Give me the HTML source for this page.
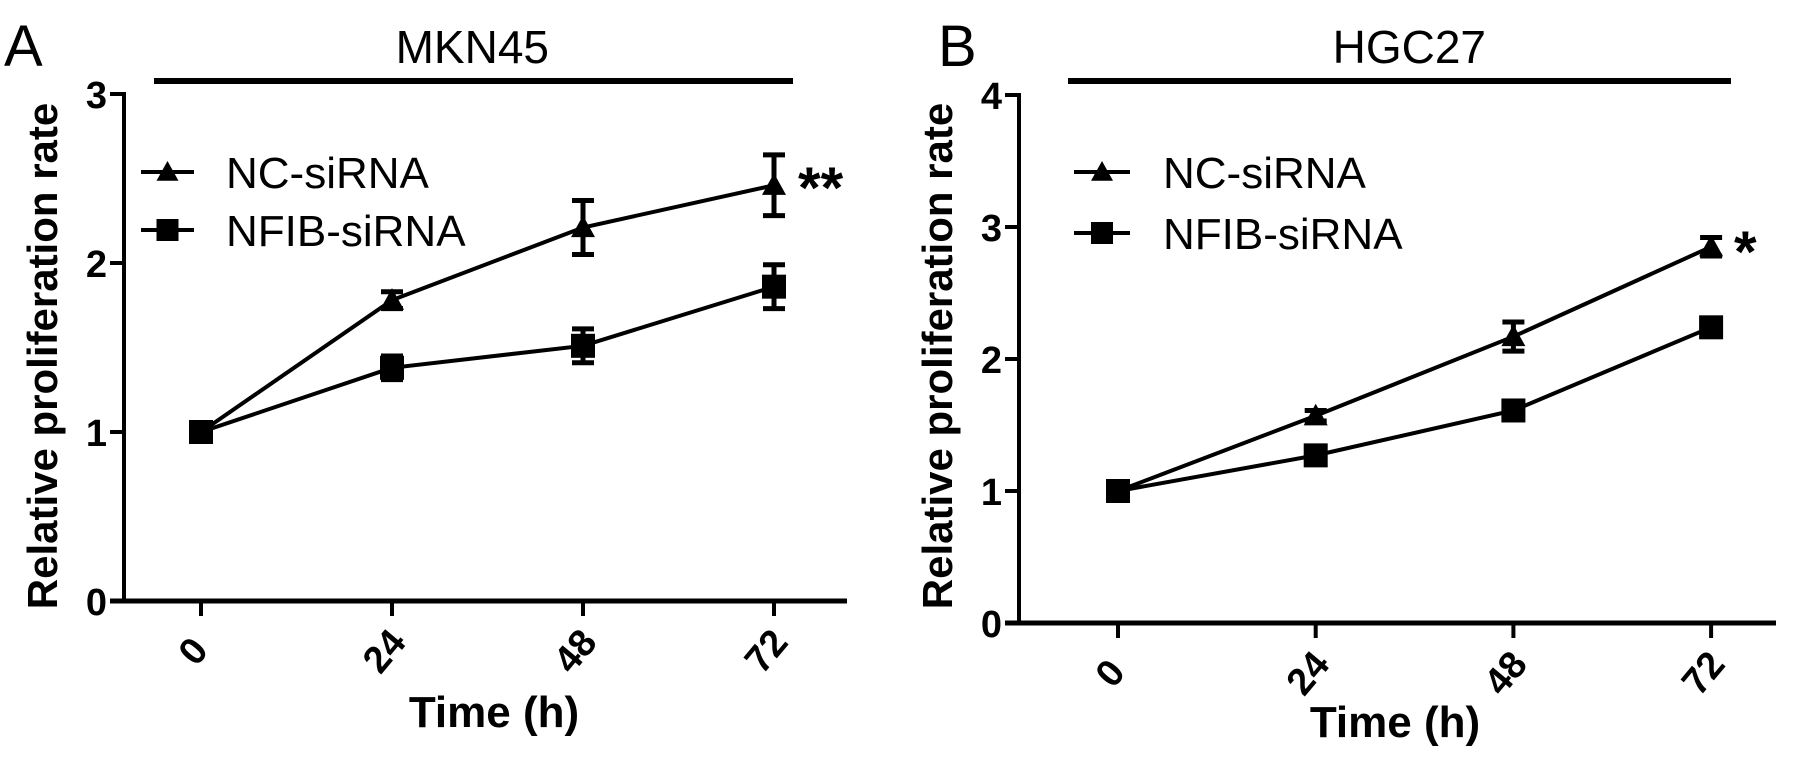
<!DOCTYPE html>
<html><head><meta charset="utf-8"><style>
html,body{margin:0;padding:0;background:#fff;}
svg{display:block;font-family:"Liberation Sans",Arial,sans-serif;}
</style></head><body>
<svg id="chart" width="1795" height="758" viewBox="0 0 1795 758" xmlns="http://www.w3.org/2000/svg"></svg>
<script>
const timepoints = [0, 24, 48, 72];
const tickLabelsX = ["0", "24", "48", "72"];
const mknNC = [1.0, 1.78, 2.21, 2.46];
const mknNCErr = [0.02, 0.05, 0.16, 0.18];
const mknNFIB = [1.0, 1.38, 1.51, 1.86];
const mknNFIBErr = [0.02, 0.07, 0.1, 0.13];
const hgcNC = [1.0, 1.57, 2.17, 2.85];
const hgcNCErr = [0.02, 0.04, 0.11, 0.07];
const hgcNFIB = [1.0, 1.27, 1.61, 2.24];
const hgcNFIBErr = [0.02, 0.03, 0.06, 0.03];
const mknTicksY = [0, 1, 2, 3];
const hgcTicksY = [0, 1, 2, 3, 4];

const NS = "http://www.w3.org/2000/svg";
const svg = document.getElementById("chart");
function el(tag, attrs, parent) {
  const e = document.createElementNS(NS, tag);
  for (const k in attrs) e.setAttribute(k, attrs[k]);
  (parent || svg).appendChild(e);
  return e;
}

const panels = [
  {key:"a", letter:"A", letterX:4, title:"MKN45", titleEnd:549, barX1:154, barX2:793,
   axX:124, axY:601, xStart:110, xEnd:847, x0:201, xStep:191, yPer:169, yMax:3, ticksY:mknTicksY,
   nc:mknNC, ncE:mknNCErr, nf:mknNFIB, nfE:mknNFIBErr, star:"**", starX:798, starY:208,
   ylabX:46, xlabX:494, xlabY:727, legX1:141, legX2:194, legTX:226, legY1:172, legY2:230},
  {key:"b", letter:"B", letterX:938, title:"HGC27", titleEnd:1486, barX1:1068, barX2:1731,
   axX:1019, axY:623, xStart:1005, xEnd:1776, x0:1118, xStep:197.7, yPer:132, yMax:4, ticksY:hgcTicksY,
   nc:hgcNC, ncE:hgcNCErr, nf:hgcNFIB, nfE:hgcNFIBErr, star:"*", starX:1734, starY:272,
   ylabX:941, xlabX:1395, xlabY:737, legX1:1074, legX2:1130, legTX:1163, legY1:172, legY2:233}
];

panels.forEach(p => {
  const g = el("g", {});
  
  
  const xS = t => p.x0 + (t / 24) * p.xStep;
  const yS = v => p.axY - v * p.yPer;

  const L = el("text", {x:p.letterX, y:66, "font-size":58}, g);
  L.textContent = p.letter;
  
  

  const T = el("text", {x:p.titleEnd, y:63, "font-size":46, "text-anchor":"end"}, g);
  T.textContent = p.title;
  
  
  const B = el("line", {x1:p.barX1, x2:p.barX2, y1:81, y2:81, stroke:"#000", "stroke-width":6}, g);
  
  

  const ya = el("line", {x1:p.axX, x2:p.axX, y1:yS(p.yMax)-2, y2:p.axY+2, stroke:"#000", "stroke-width":4}, g);
  
  
  const xa = el("line", {x1:p.xStart, x2:p.xEnd, y1:p.axY, y2:p.axY, stroke:"#000", "stroke-width":5}, g);
  
  

  p.ticksY.forEach(v => {
    const tk = el("line", {x1:p.axX-14, x2:p.axX, y1:yS(v), y2:yS(v), stroke:"#000", "stroke-width":4}, g);
    
    
    const tl = el("text", {x:p.axX-17, y:yS(v)+14, "font-size":38, "font-weight":"bold", "text-anchor":"end"}, g);
    tl.textContent = String(v);
    
    
  });
  timepoints.forEach((t, i) => {
    const x = xS(t);
    const tk = el("line", {x1:x, x2:x, y1:p.axY, y2:p.axY+15, stroke:"#000", "stroke-width":4}, g);
    
    
    const cy = p.axY + 50;
    const tl = el("text", {x:x-8, y:cy+13, "font-size":38, "font-weight":"bold", "text-anchor":"middle",
      transform:`rotate(-50 ${x-8} ${cy})`}, g);
    tl.textContent = tickLabelsX[i];
    
    
  });

  const yl = el("text", {x:p.ylabX, y:356, "font-size":42, "font-weight":"bold", "text-anchor":"middle",
    "dominant-baseline":"middle", transform:`rotate(-90 ${p.ylabX} 356)`}, g);
  yl.textContent = "Relative proliferation rate";
  
  
  const xl = el("text", {x:p.xlabX, y:p.xlabY, "font-size":44, "font-weight":"bold", "text-anchor":"middle", "xml:space":"preserve"}, g);
  xl.textContent = "Time  (h)";
  
  

  function tri(cx, cy, s, parent) {
    return el("polygon", {points:`${cx},${cy-s} ${cx-s},${cy+s*0.8} ${cx+s},${cy+s*0.8}`, fill:"#000"}, parent);
  }
  function sq(cx, cy, s, parent) {
    return el("rect", {x:cx-s, y:cy-s, width:2*s, height:2*s, fill:"#000"}, parent);
  }

  [["nf", p.nf, p.nfE, "square"], ["nc", p.nc, p.ncE, "triangle"]].forEach(([name, vals, errs, shape]) => {
    const sg = el("g", {}, g);
    
    
    const pts = timepoints.map((t, i) => xS(t) + "," + yS(vals[i])).join(" ");
    const ln = el("polyline", {points:pts, fill:"none", stroke:"#000", "stroke-width":4}, sg);
    
    
    timepoints.forEach((t, i) => {
      const x = xS(t), y = yS(vals[i]);
      const yt = yS(vals[i] + errs[i]), yb = yS(vals[i] - errs[i]);
      const eb = el("path", {d:`M${x},${yt}V${yb}M${x-11},${yt}H${x+11}M${x-11},${yb}H${x+11}`, stroke:"#000", "stroke-width":5, fill:"none"}, sg);
      
      
      const m = shape === "square" ? sq(x, y, 12, sg) : tri(x, y, 12, sg);
      
      
    });
  });

  const st = el("text", {x:p.starX, y:p.starY, "font-size":58, "font-weight":"bold"}, g);
  st.textContent = p.star;
  
  

  [["NC-siRNA", p.legY1, "triangle"], ["NFIB-siRNA", p.legY2, "square"]].forEach(([lab, y, shape]) => {
    const lg = el("g", {}, g);
    
    
    el("line", {x1:p.legX1, x2:p.legX2, y1:y, y2:y, stroke:"#000", "stroke-width":4}, lg);
    const cx = (p.legX1 + p.legX2) / 2;
    if (shape === "square") sq(cx, y, 11, lg); else tri(cx, y, 11, lg);
    const tx = el("text", {x:p.legTX, y:y+16, "font-size":44}, lg);
    tx.textContent = lab;
  });
});
</script>
</body></html>
